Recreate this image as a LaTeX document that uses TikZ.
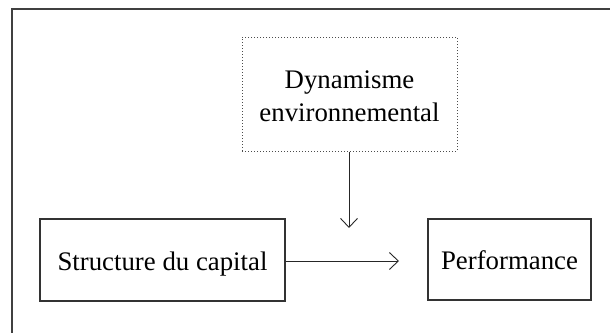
\documentclass[tikz,border=0pt]{standalone}
\usepackage{fontspec}
\setmainfont{Liberation Serif}
\usepackage{tikz}
\usetikzlibrary{arrows.meta}
\usetikzlibrary{positioning}

\tikzset{
    boite/.style={draw=black!80,line width=1.3pt,inner sep=0pt,align=center,text height=21pt,text depth=1pt},
    fleche/.style={draw=black!85,line width=0.9pt,-{Straight Barb[length=9pt,width=17pt,line width=0.9pt]}}
}

\begin{document}
\begin{tikzpicture}[x=1pt,y=-1pt,font=\fontsize{26.8}{33}\selectfont]
        \useasboundingbox (0,0) rectangle (610,332);
        \clip (0,0) rectangle (610,332);
        \draw[black!75,line width=1.8pt] (12,345) -- (12,9) -- (625,9);

        \node[boite,minimum width=245pt,minimum height=82pt] (capital) at (162.5,260) {Structure du capital};
        \node[boite,minimum width=163pt,minimum height=81pt] (perf) at (509.5,259.5) {Performance};
        \node[boite,draw=black!70,line width=1pt,dotted,text height=55pt,minimum width=215pt,minimum height=114pt] (dyna) at (349.5,94) {Dynamisme\\environnemental};

        \coordinate (bout) at (399,261);
        \coordinate (bas) at (349,228);
        \draw[fleche] (capital.east |- bout) -- (bout);
        \draw[fleche] (dyna.south -| bas) -- (bas);
    \end{tikzpicture}
\end{document}
